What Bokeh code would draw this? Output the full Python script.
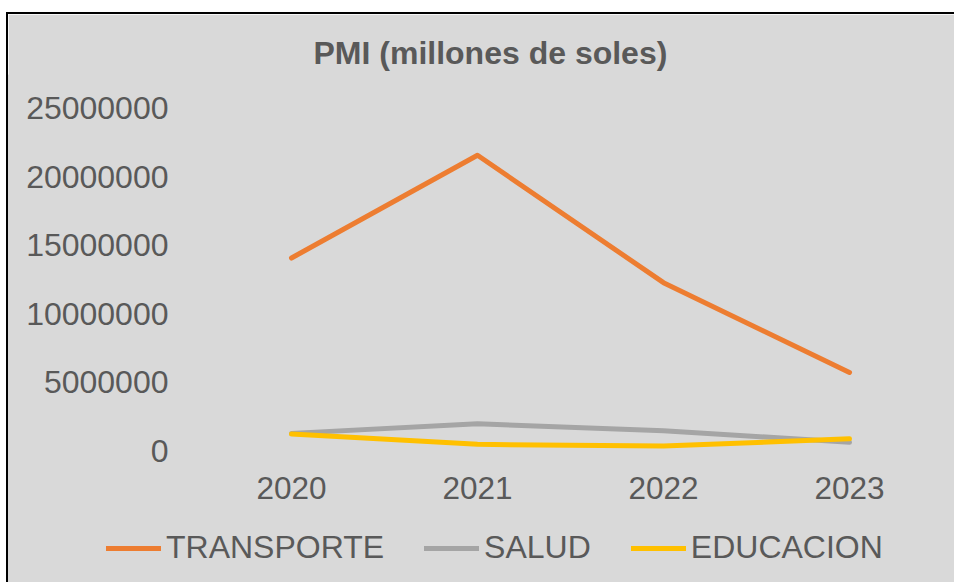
from bokeh.plotting import figure
from bokeh.models import Legend, LegendItem, FixedTicker, Range1d, NumeralTickFormatter
from bokeh.embed import file_html
from bokeh.resources import INLINE

# ---- data ----
years = ["2020", "2021", "2022", "2023"]
transporte = [14050000, 21550000, 12250000, 5700000]
salud = [1250000, 1950000, 1450000, 600000]
educacion = [1200000, 450000, 320000, 850000]
y_ticks = [0, 5000000, 10000000, 15000000, 20000000, 25000000]
series_names = ["TRANSPORTE", "SALUD", "EDUCACION"]
title_text = "PMI (millones de soles)"

TEXT = "#595959"
BG = "#d9d9d9"
FONT = "Liberation Sans"
COLORS = ["#ED7D31", "#A5A5A5", "#FFC000"]

x_pos = list(range(len(years)))          # category positions
y_max = y_ticks[-1]

# canvas geometry (px) used to place the axes inside the frame
W, H = 948, 570
TOP = 61            # frame top (title panel above it)
Y_TOP_PX, Y_ZERO_PX = 93.5, 436.0        # where 25M and 0 sit
X_FIRST_PX, X_STEP_PX = 283.0, 186.0     # first category centre, spacing
px_per_unit = (Y_ZERO_PX - Y_TOP_PX) / y_max
y_end = y_max + (Y_TOP_PX - TOP) / px_per_unit
y_start = -(H - Y_ZERO_PX) / px_per_unit
x_start = -X_FIRST_PX / X_STEP_PX
x_end = (W - X_FIRST_PX) / X_STEP_PX

p = figure(
    x_range=Range1d(x_start, x_end),
    y_range=Range1d(y_start, y_end),
    width=W, height=H,
    output_backend="svg", toolbar_location=None,
    min_border_left=0, min_border_right=0,
    min_border_top=TOP, min_border_bottom=0,
    background_fill_color=BG, border_fill_color=BG,
    outline_line_color=BG, outline_line_width=2,
    styles={"margin-top": "12px", "margin-left": "6px",
            "border-left": "2px solid black",
            "border-top": "2px solid black"},
)

p.title.text = title_text
p.title.text_font = FONT
p.title.text_font_size = "32px"
p.title.text_font_style = "bold"
p.title.text_color = TEXT
p.title.align = "left"
p.title.offset = 305

renderers = []
for vals, col in zip([transporte, salud, educacion], COLORS):
    r = p.line(x_pos, vals, line_color=col, line_width=5,
               line_cap="round", line_join="round")
    renderers.append(r)

p.xgrid.grid_line_color = None
p.ygrid.grid_line_color = None

for ax in (p.xaxis[0], p.yaxis[0]):
    ax.axis_line_color = None
    ax.major_tick_line_color = None
    ax.minor_tick_line_color = None
    ax.major_tick_out = 0
    ax.major_tick_in = 0
    ax.major_label_text_font = FONT
    ax.major_label_text_color = TEXT

p.xaxis.ticker = FixedTicker(ticks=x_pos)
p.xaxis.major_label_overrides = {i: y for i, y in zip(x_pos, years)}
p.xaxis.fixed_location = 0
p.xaxis.major_label_standoff = 26
p.xaxis.major_label_text_font_size = "31.5px"

p.yaxis.ticker = FixedTicker(ticks=y_ticks)
p.yaxis.formatter = NumeralTickFormatter(format="0")
p.yaxis.fixed_location = -0.5
p.yaxis.major_label_standoff = 30
p.yaxis.major_label_text_font_size = "32px"

legend = Legend(
    items=[LegendItem(label=n, renderers=[r]) for n, r in zip(series_names, renderers)],
    orientation="horizontal",
    location=(98, 18),
    glyph_width=55, glyph_height=20,
    label_standoff=5, spacing=40, padding=0, margin=0,
    border_line_color=None, background_fill_alpha=0,
    label_text_font=FONT, label_text_font_size="32px", label_text_color=TEXT,
)
p.add_layout(legend, "center")

open("out.html", "w").write(file_html(p, INLINE))
